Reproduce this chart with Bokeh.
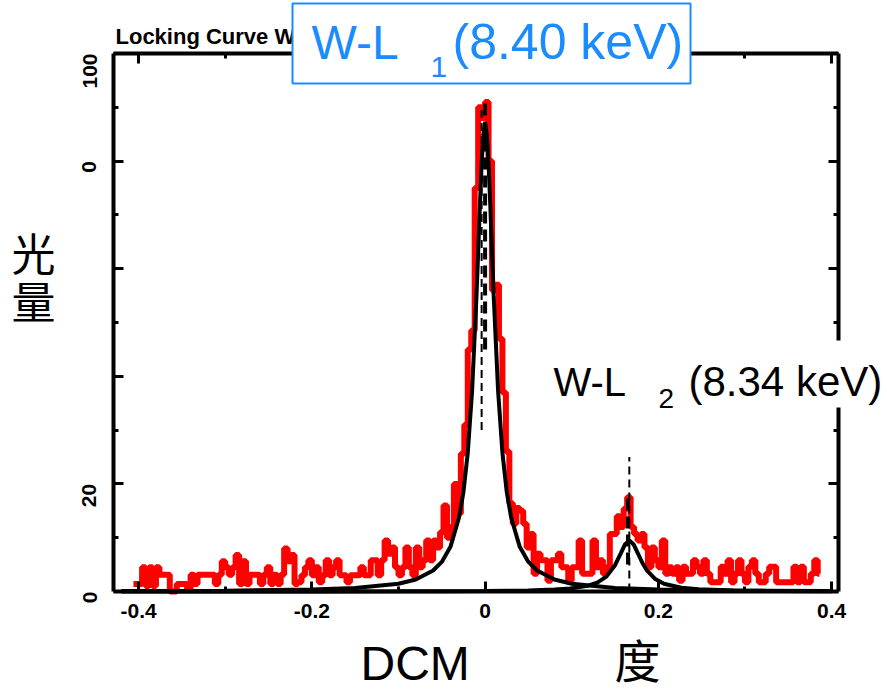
import math
from bokeh.plotting import figure
from bokeh.models import Range1d, FixedTicker, LinearAxis, Label, BoxAnnotation
from bokeh.embed import file_html
from bokeh.resources import INLINE

# ---------------- data ----------------
bin_start = -0.406      # centre of first bin (degrees)
bin_width = 0.004
counts = [
    1.4, 1.4, 1.4, 4.5, 1.0, 4.5, 1.0, 4.5, 3.1, 3.1,
    3.1, 0.0, 0.0, 1.4, 1.4, 1.4, 0.3, 3.1, 1.4, 3.1,
    3.1, 3.1, 3.1, 3.1, 1.4, 3.1, 5.6, 4.5, 3.1, 4.5,
    6.8, 1.4, 5.6, 1.4, 3.1, 3.1, 3.1, 1.4, 3.1, 4.5,
    1.4, 3.1, 1.4, 3.1, 8.0, 5.6, 6.8, 1.4, 1.7, 3.0,
    4.5, 5.8, 3.0, 4.5, 1.7, 3.0, 5.8, 3.0, 4.5, 5.8,
    3.0, 3.0, 1.7, 3.0, 3.0, 3.0, 4.5, 3.0, 3.0, 5.8,
    5.8, 3.0, 5.8, 9.5, 7.0, 8.2, 4.5, 3.0, 4.5, 8.2,
    4.5, 3.0, 8.2, 4.5, 5.8, 9.5, 5.8, 9.5, 8.2, 11.0,
    16.0, 10.0, 12.0, 20.0, 14.5, 25.6, 31.0, 45.0, 48.5, 75.0,
    90.0, 88.0, 91.0, 80.0, 56.0, 57.0, 47.0, 37.0, 26.0, 16.4,
    12.6, 15.5, 15.0, 12.6, 8.2, 10.7, 3.3, 7.0, 5.8, 5.8,
    2.0, 5.8, 5.8, 7.0, 4.5, 4.5, 2.0, 4.5, 4.5, 9.5,
    3.3, 3.3, 3.3, 9.5, 4.5, 5.8, 3.3, 4.5, 10.7, 10.7,
    14.0, 12.0, 15.4, 17.5, 12.0, 10.7, 9.5, 10.7, 8.2, 4.5,
    8.2, 5.8, 4.5, 9.5, 3.3, 4.5, 3.3, 4.5, 2.0, 4.6,
    3.3, 3.3, 5.8, 4.6, 3.3, 5.8, 3.3, 1.7, 1.7, 1.7,
    4.6, 3.3, 5.8, 1.7, 3.3, 5.8, 3.3, 1.7, 4.6, 5.8,
    3.3, 1.7, 1.7, 3.3, 4.6, 4.6, 1.7, 1.7, 1.7, 1.7,
    1.7, 4.6, 1.7, 4.6, 1.7, 1.7, 3.3, 5.8, 3.3,
]
bin_centres = [bin_start + i * bin_width for i in range(len(counts))]

# fitted curve of W-La1
fit1_x = [-0.42, -0.30, -0.20, -0.15, -0.10, -0.08, -0.06, -0.05, -0.04, -0.03,
          -0.025, -0.02, -0.015, -0.01, -0.008, -0.006, -0.004, -0.002, 0.0,
          0.002, 0.004, 0.006, 0.008, 0.01, 0.015, 0.02, 0.025, 0.03, 0.04,
          0.05, 0.06, 0.08, 0.10, 0.15, 0.20, 0.30, 0.40]
fit1_y = [0.08, 0.16, 0.37, 0.65, 1.45, 2.24, 3.9, 5.5, 8.3, 13.8,
          18.5, 25.8, 37.3, 54.7, 63.1, 71.7, 79.5, 85.0, 87.0,
          85.0, 79.5, 71.7, 63.1, 54.7, 37.3, 25.8, 18.5, 13.8, 8.3,
          5.5, 3.9, 2.24, 1.45, 0.65, 0.37, 0.16, 0.08]

# fitted curve of W-La2
fit2_x = [-0.42, -0.20, -0.10, -0.05, 0.0, 0.05, 0.08, 0.10, 0.12, 0.13,
          0.14, 0.15, 0.1565, 0.1615, 0.1665, 0.1715, 0.1765, 0.1815, 0.1865,
          0.1965, 0.2065, 0.2265, 0.2465, 0.2865, 0.3265, 0.40]
fit2_y = [0.01, 0.02, 0.04, 0.06, 0.10, 0.20, 0.35, 0.58, 1.12, 1.69,
          2.77, 4.89, 7.06, 8.74, 9.5, 8.74, 7.06, 5.34, 3.98,
          2.31, 1.45, 0.71, 0.41, 0.19, 0.11, 0.05]

# dashed peak markers: x, y_from, y_to
marker_thin_x = [-0.004, 0.1665]
marker_thin_y0 = [30.0, 0.0]
marker_thin_y1 = [90.0, 25.0]
marker_thick_x = [0.0, 0.165]
marker_thick_y0 = [45.0, 5.0]
marker_thick_y1 = [91.0, 17.5]

x_ticks = [-0.4, -0.2, 0.0, 0.2, 0.4]
x_minor = [-0.3, -0.1, 0.1, 0.3]
x_labels = {-0.4: "-0.4", -0.2: "-0.2", 0.0: "0", 0.2: "0.2", 0.4: "0.4"}
y_ticks = [0, 20, 40, 60, 80, 100]
y_minor = [10, 30, 50, 70, 90]
y_labels = {0: "0", 20: "20", 40: "", 60: "", 80: "0", 100: "100"}

title_text = "Locking Curve W"
peak1_parts = ["W-L", "1", "(8.40 keV)"]
peak2_parts = ["W-L", "2", "(8.34 keV)"]
ylabel_chars = ["光", "量"]
xlabel_parts = ["DCM", "度"]

# ---------------- layout ----------------
W, H = 887, 693
FL, FR, FT, FB = 113, 838, 53, 591        # plot box edges in page pixels
X0, X1, Y0, Y1 = -0.429, 0.408, 0.0, 100.0  # plot box edges in data units
kx = (FR - FL) / (X1 - X0)
ky = (FB - FT) / (Y1 - Y0)

p = figure(width=W, height=H,
           x_range=Range1d(X0 - FL / kx, X1 + (W - FR) / kx),
           y_range=Range1d(Y0 - (H - FB) / ky, Y1 + FT / ky),
           output_backend="svg", toolbar_location=None,
           x_axis_location=None, y_axis_location=None,
           min_border=0)
p.outline_line_color = None
p.xgrid.visible = False
p.ygrid.visible = False
p.background_fill_color = "white"
p.border_fill_color = "white"

tick_font = "Liberation Sans"


def make_axis(ticks, minor, overrides, show_labels, loc, bounds):
    ax = LinearAxis(fixed_location=loc, bounds=bounds)
    ax.ticker = FixedTicker(ticks=ticks, minor_ticks=minor)
    ax.axis_line_color = "black"
    ax.axis_line_width = 4
    ax.major_tick_in = 10
    ax.major_tick_out = 0
    ax.minor_tick_in = 5
    ax.minor_tick_out = 0
    ax.major_tick_line_width = 3
    ax.minor_tick_line_width = 3
    ax.major_tick_line_color = "black"
    ax.minor_tick_line_color = "black"
    ax.major_label_overrides = overrides
    ax.major_label_text_font = tick_font
    ax.major_label_text_font_style = "bold"
    ax.major_label_text_font_size = "21px"
    ax.major_label_text_color = "black" if show_labels else None
    return ax


bottom_ax = make_axis(x_ticks, x_minor, x_labels, True, Y0, (X0, X1))
bottom_ax.major_label_standoff = 12
p.add_layout(bottom_ax, "below")
left_ax = make_axis(y_ticks, y_minor, y_labels, True, X0, (Y0, Y1))
left_ax.major_label_orientation = math.pi / 2
left_ax.major_label_standoff = 24
p.add_layout(left_ax, "left")
top_ax = make_axis(x_ticks, x_minor, x_labels, False, Y1, (X0, X1))
p.add_layout(top_ax, "above")
right_ax = make_axis(y_ticks, y_minor, y_labels, False, X1, (Y0, Y1))
p.add_layout(right_ax, "right")

# data and fits
p.step(x=bin_centres, y=counts, mode="center", line_color="#ff0000", line_width=6)
p.line(fit1_x, fit1_y, line_color="black", line_width=4)
p.line(fit2_x, fit2_y, line_color="black", line_width=4)
p.segment(x0=marker_thick_x, y0=marker_thick_y0, x1=marker_thick_x, y1=marker_thick_y1,
          line_color="black", line_width=4, line_dash="12 6")
p.segment(x0=marker_thin_x, y0=marker_thin_y0, x1=marker_thin_x, y1=marker_thin_y1,
          line_color="black", line_width=2, line_dash="8 5")


def add_label(text, px, py, size, color="black", font="Liberation Sans",
              style="normal", align="left", baseline="alphabetic"):
    p.add_layout(Label(x=px, y=H - py, x_units="screen", y_units="screen",
                       text=text, text_font=font, text_font_size=f"{size}px",
                       text_font_style=style, text_color=color,
                       text_align=align, text_baseline=baseline))


# title (partly hidden by the blue box)
add_label(title_text, 115, 36, 22, style="bold")

# blue box for W-La1
blue = "#1a8cff"
p.add_layout(BoxAnnotation(left=292, right=690, top=H - 3, bottom=H - 83,
                           left_units="screen", right_units="screen",
                           top_units="screen", bottom_units="screen",
                           fill_color="white", fill_alpha=1.0,
                           line_color=blue, line_width=2, line_alpha=1.0))
add_label(peak1_parts[0], 311, 42, 48, color=blue)
add_label(peak1_parts[1], 430, 66, 30, color=blue)
add_label(peak1_parts[2], 452, 41, 50, color=blue)

# white backing + W-La2 label
p.add_layout(BoxAnnotation(left=545, right=887, top=H - 340, bottom=H - 407,
                           left_units="screen", right_units="screen",
                           top_units="screen", bottom_units="screen",
                           fill_color="white", fill_alpha=1.0, line_color=None))
add_label(peak2_parts[0], 553, 381, 40)
add_label(peak2_parts[1], 658, 398, 28)
add_label(peak2_parts[2], 688, 381, 42)

# axis titles
add_label(ylabel_chars[0], 33, 251, 44, font="Noto Sans CJK SC", align="center", baseline="middle")
add_label(ylabel_chars[1], 33, 299, 44, font="Noto Sans CJK SC", align="center", baseline="middle")
add_label(xlabel_parts[0], 360, 663, 48)
add_label(xlabel_parts[1], 637, 657, 46, font="Noto Sans CJK SC", align="center", baseline="middle")

open("out.html", "w").write(file_html(p, INLINE))
